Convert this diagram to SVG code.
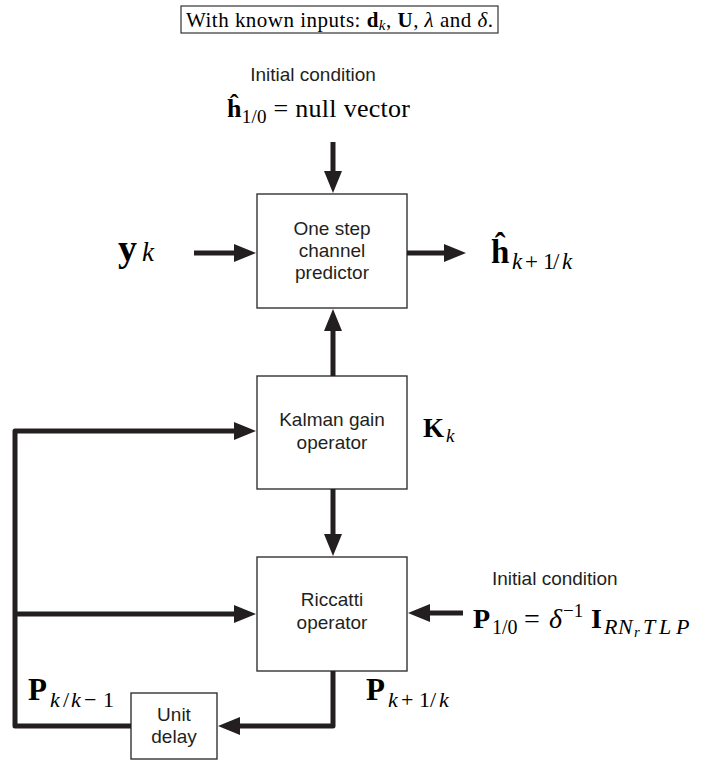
<svg xmlns="http://www.w3.org/2000/svg" width="713" height="760" viewBox="0 0 713 760">
<style>
.box{fill:#fff;stroke:#333;stroke-width:1.4}
.lbl{font-family:"Liberation Sans",Arial,sans-serif;font-size:19px;fill:#231f20;text-anchor:middle}
.ic{font-family:"Liberation Sans",Arial,sans-serif;font-size:19px;fill:#231f20}
.m{font-family:"Liberation Serif","Times New Roman",serif;fill:#000}
.b{font-weight:bold}
.i{font-style:italic}
.wire{fill:none;stroke:#231f20;stroke-width:5;stroke-linejoin:round}
</style>
<defs>
<marker id="ah" markerUnits="userSpaceOnUse" markerWidth="24" markerHeight="20" refX="2" refY="9" orient="auto">
<path d="M0,0 L22,9 L0,18 z" fill="#231f20"/>
</marker>
</defs>
<rect x="0" y="0" width="713" height="760" fill="#fff"/>
<g id="header">
<rect x="181" y="6" width="317" height="27" fill="#fff" stroke="#333" stroke-width="1.2"/>
<text class="m" x="186" y="27" font-size="21" textLength="307" lengthAdjust="spacing">With known inputs: <tspan class="b">d</tspan><tspan class="i" font-size="15" dy="3">k</tspan><tspan dy="-3">, </tspan><tspan class="b">U</tspan>, <tspan class="i">λ</tspan> and <tspan class="i">δ</tspan>.</text>
</g>
<g id="init-h">
<text class="ic" x="313" y="81" text-anchor="middle">Initial condition</text>
<text class="m" x="227" y="117" font-size="26" textLength="183" lengthAdjust="spacing"><tspan class="b">ĥ</tspan><tspan font-size="19" dy="6">1/0</tspan><tspan dy="-6"> = null vector</tspan></text>
</g>
<g id="predictor">
<rect class="box" x="257" y="194" width="150" height="114"/>
<text class="lbl" x="332" y="235">One step</text>
<text class="lbl" x="332" y="257">channel</text>
<text class="lbl" x="332" y="279">predictor</text>
</g>
<g id="yk">
<text class="m" y="261" font-size="38"><tspan class="b" x="118">y</tspan><tspan class="i" x="142" font-size="27">k</tspan></text>
</g>
<g id="hout">
<text class="m" y="263" font-size="33"><tspan class="b" x="491">ĥ</tspan><tspan class="i" x="512" font-size="23" dy="6">k</tspan><tspan x="525" font-size="23">+</tspan><tspan x="543" font-size="23">1</tspan><tspan x="553" font-size="23">/</tspan><tspan class="i" x="562" font-size="23">k</tspan></text>
</g>
<g id="kalman">
<rect class="box" x="257" y="376" width="150" height="113"/>
<text class="lbl" x="332" y="426">Kalman gain</text>
<text class="lbl" x="332" y="449">operator</text>
</g>
<g id="Kk">
<text class="m" y="437" font-size="27"><tspan class="b" x="423">K</tspan><tspan class="i" x="446" font-size="19" dy="5">k</tspan></text>
</g>
<g id="riccati">
<rect class="box" x="257" y="557" width="150" height="114"/>
<text class="lbl" x="332" y="606">Riccatti</text>
<text class="lbl" x="332" y="629">operator</text>
</g>
<g id="init-p">
<text class="ic" x="492" y="585">Initial condition</text>
<text class="m" y="628" font-size="28"><tspan class="b" x="473">P</tspan><tspan x="492" font-size="20" dy="6">1/0</tspan><tspan x="524" dy="-6">=</tspan><tspan class="i" x="549">δ</tspan><tspan x="563" font-size="19" dy="-11">−1</tspan><tspan class="b" x="591" dy="11">I</tspan><tspan class="i" x="604" font-size="22" dy="6">R</tspan><tspan class="i" x="618" font-size="22">N</tspan><tspan class="i" x="634" font-size="15" dy="3">r</tspan><tspan class="i" x="643" font-size="22" dy="-3">T</tspan><tspan class="i" x="659" font-size="22">L</tspan><tspan class="i" x="676" font-size="22">P</tspan></text>
</g>
<g id="unit-delay">
<rect class="box" x="131" y="693" width="86" height="66"/>
<text class="lbl" x="174" y="721">Unit</text>
<text class="lbl" x="174" y="743">delay</text>
</g>
<g id="Pkk1">
<text class="m" y="700" font-size="31"><tspan class="b" x="28">P</tspan><tspan class="i" x="50" font-size="22" dy="7">k</tspan><tspan x="63" font-size="22">/</tspan><tspan class="i" x="71" font-size="22">k</tspan><tspan x="84" font-size="22">−</tspan><tspan x="103" font-size="22">1</tspan></text>
</g>
<g id="Pk1k">
<text class="m" y="700" font-size="31"><tspan class="b" x="366">P</tspan><tspan class="i" x="388" font-size="22" dy="7">k</tspan><tspan x="401" font-size="22">+</tspan><tspan x="419" font-size="22">1</tspan><tspan x="430" font-size="22">/</tspan><tspan class="i" x="439" font-size="22">k</tspan></text>
</g>
<g id="connectors">
<line class="wire" x1="333" y1="142" x2="333" y2="173" marker-end="url(#ah)"/>
<line class="wire" x1="194" y1="253" x2="236" y2="253" marker-end="url(#ah)"/>
<line class="wire" x1="407" y1="253" x2="446" y2="253" marker-end="url(#ah)"/>
<line class="wire" x1="333" y1="376" x2="333" y2="329" marker-end="url(#ah)"/>
<line class="wire" x1="333" y1="489" x2="333" y2="536" marker-end="url(#ah)"/>
<polyline class="wire" points="131,726 15,726 15,431 236,431" marker-end="url(#ah)"/>
<line class="wire" x1="15" y1="614" x2="236" y2="614" marker-end="url(#ah)"/>
<line class="wire" x1="463" y1="613" x2="428" y2="613" marker-end="url(#ah)"/>
<polyline class="wire" points="333,671 333,726 238,726" marker-end="url(#ah)"/>
</g>
</svg>
